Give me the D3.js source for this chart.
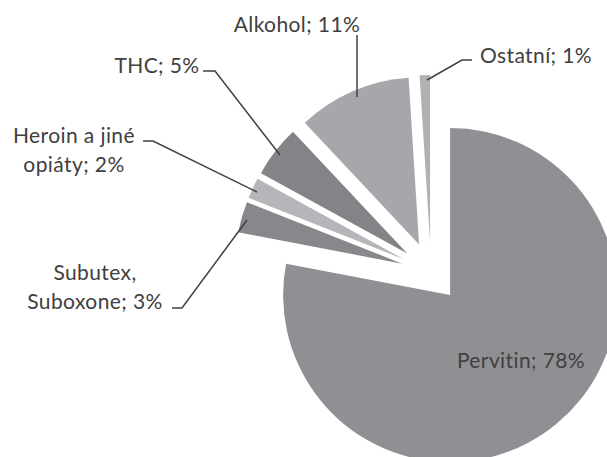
<!DOCTYPE html>
<html>
<head>
<meta charset="utf-8">
<script src="https://cdn.jsdelivr.net/npm/d3@7"></script>
<style>
  html, body { margin: 0; padding: 0; background: #fff; overflow: hidden; }
  svg { display: block; }
  text { font-family: Lato, "Open Sans", sans-serif; fill: #404040; }
</style>
</head>
<body>
<svg id="chart" width="607" height="457"></svg>
<script>
const categories = ["Pervitin", "Subutex, Suboxone", "Heroin a jiné opiáty", "THC", "Alkohol", "Ostatní"];
const values = [78, 3, 2, 5, 11, 1];
const colors = ["#8f9094", "#87888c", "#b5b6b9", "#838488", "#a6a7aa", "#b0b1b4"];
const labelLines = [
  ["Pervitin; 78%"],
  ["Subutex,", "Suboxone; 3%"],
  ["Heroin a jiné", "opiáty; 2%"],
  ["THC; 5%"],
  ["Alkohol; 11%"],
  ["Ostatní; 1%"]
];

const svg = d3.select("#chart");
const cx = 431, cy = 272, R = 167, explode = 30;

const data = categories.map((c, i) => ({ name: c, value: values[i], color: colors[i], lines: labelLines[i] }));
const pie = d3.pie().sort(null).value(d => d.value).startAngle(0).endAngle(2 * Math.PI);
const arc = d3.arc().innerRadius(0).outerRadius(R);
const arcs = pie(data);

const g = svg.append("g").attr("transform", `translate(${cx},${cy})`);
g.selectAll("path").data(arcs).enter().append("path")
  .attr("d", arc)
  .attr("fill", d => d.data.color)
  .attr("transform", d => {
    const a = (d.startAngle + d.endAngle) / 2;
    return `translate(${explode * Math.sin(a)},${-explode * Math.cos(a)})`;
  });

// leader lines (label anchor -> slice)
const leaders = [
  null,
  [[172, 308], [182, 308], [247, 220]],
  [[143, 141], [153, 141], [257, 192]],
  [[203, 71], [215, 71], [280, 155]],
  [[357, 35], [357, 97]],
  [[472, 60], [462, 60], [427, 80]]
];
const line = d3.line();
svg.selectAll("path.leader").data(leaders.filter(d => d)).enter().append("path")
  .attr("class", "leader")
  .attr("d", d => line(d))
  .attr("fill", "none")
  .attr("stroke", "#404040")
  .attr("stroke-width", 1.5);

// label positions (center x, first baseline)
const labelPos = [
  [521, 368],
  [95, 280],
  [74, 143],
  [157, 73],
  [297, 32],
  [536, 63]
];
const lineH = 29;
data.forEach((d, i) => {
  const t = svg.append("text")
    .attr("x", labelPos[i][0])
    .attr("y", labelPos[i][1])
    .attr("text-anchor", "middle")
    .attr("font-size", 21)
    .attr("letter-spacing", 0.4);
  d.lines.forEach((l, j) => {
    t.append("tspan").attr("x", labelPos[i][0]).attr("y", labelPos[i][1] + j * lineH).text(l);
  });
});
</script>
</body>
</html>
